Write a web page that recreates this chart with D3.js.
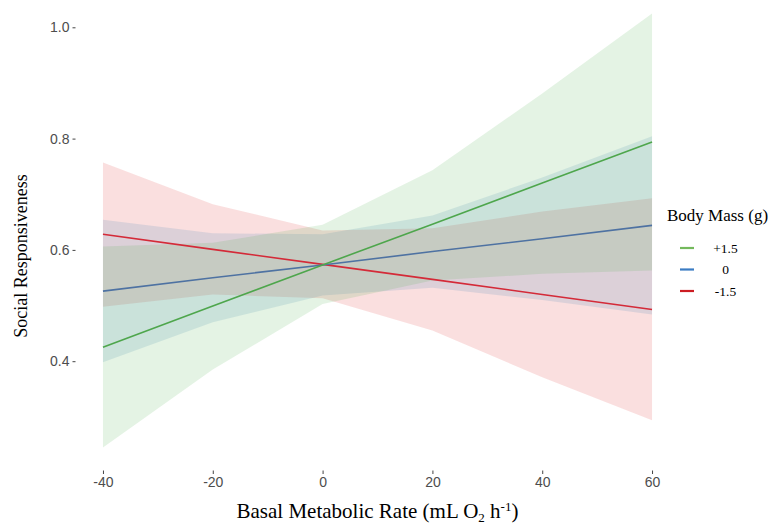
<!DOCTYPE html>
<html>
<head>
<meta charset="utf-8">
<script src="https://cdn.jsdelivr.net/npm/d3@7"></script>
<style>
  html, body { margin: 0; padding: 0; background: #ffffff; }
  svg { display: block; }
</style>
</head>
<body>
<svg id="chart" width="775" height="524"></svg>
<script>
// ---- data ----
const xVals = [-40, -20, 0, 20, 40, 60];
const xTicks = [-40, -20, 0, 20, 40, 60];
const yTicks = [0.4, 0.6, 0.8, 1.0];
const seriesNames = ["+1.5", "0", "-1.5"];

const fitPlus   = [0.425, 0.499, 0.573, 0.646, 0.720, 0.794];
const lowerPlus = [0.245, 0.385, 0.503, 0.545, 0.557, 0.563];
const upperPlus = [0.606, 0.613, 0.645, 0.743, 0.881, 1.025];

const fitZero   = [0.526, 0.550, 0.573, 0.597, 0.620, 0.644];
const lowerZero = [0.398, 0.470, 0.518, 0.532, 0.510, 0.484];
const upperZero = [0.654, 0.630, 0.628, 0.662, 0.730, 0.804];

const fitMinus   = [0.628, 0.601, 0.574, 0.547, 0.520, 0.493];
const lowerMinus = [0.498, 0.520, 0.513, 0.455, 0.371, 0.294];
const upperMinus = [0.757, 0.682, 0.635, 0.639, 0.669, 0.693];

const lineColors   = ["#4ea64c", "#4e72a2", "#d42a38"];
const fillColors   = ["#4daf4a", "#377eb8", "#e0262b"];
const legendColors = ["#74b95c", "#3b7cc3", "#cc1c22"];

const series = [
  { name: seriesNames[0], fit: fitPlus,  lo: lowerPlus,  hi: upperPlus },
  { name: seriesNames[1], fit: fitZero,  lo: lowerZero,  hi: upperZero },
  { name: seriesNames[2], fit: fitMinus, lo: lowerMinus, hi: upperMinus }
];

// ---- layout ----
const svg = d3.select("#chart");
const x = d3.scaleLinear().domain([-45, 65]).range([75.5, 679.5]);
const y = d3.scaleLinear().domain([0.4, 1.0]).range([361.2, 27.3]);

const plot = svg.append("g");

const area = d3.area()
  .x((d, i) => x(xVals[i]))
  .y0(d => y(d.lo))
  .y1(d => y(d.hi));

const drawOrder = [2, 1, 0];
drawOrder.forEach(k => {
  const s = series[k];
  const pts = xVals.map((v, i) => ({ lo: s.lo[i], hi: s.hi[i] }));
  plot.append("path")
    .attr("d", area(pts))
    .attr("fill", fillColors[k])
    .attr("fill-opacity", 0.15)
    .attr("stroke", "none");
});

const line = d3.line()
  .x((d, i) => x(xVals[i]))
  .y(d => y(d));

drawOrder.forEach(k => {
  plot.append("path")
    .attr("d", line(series[k].fit))
    .attr("fill", "none")
    .attr("stroke", lineColors[k])
    .attr("stroke-width", 1.6);
});

// ---- axes ----
const xAxis = d3.axisBottom(x).tickValues(xTicks).tickSize(3.5).tickPadding(3)
  .tickFormat(d3.format("d"));
const gx = svg.append("g").attr("transform", "translate(0,470.5)").call(xAxis);
gx.select(".domain").remove();
gx.selectAll(".tick line").attr("stroke", "#444").attr("stroke-width", 1);
gx.selectAll(".tick text")
  .attr("fill", "#4d4d4d")
  .style("font-family", "'Liberation Sans', Arial, sans-serif")
  .style("font-size", "14px")
  .text(d => d < 0 ? "-" + Math.abs(d) : String(d));

const yAxis = d3.axisLeft(y).tickValues(yTicks).tickSize(3).tickPadding(3)
  .tickFormat(d3.format(".1f"));
const gy = svg.append("g").attr("transform", "translate(75.5,0)").call(yAxis);
gy.select(".domain").remove();
gy.selectAll(".tick line").attr("stroke", "#444").attr("stroke-width", 1);
gy.selectAll(".tick text")
  .attr("fill", "#4d4d4d")
  .style("font-family", "'Liberation Sans', Arial, sans-serif")
  .style("font-size", "14px");

// ---- axis titles ----
const xTitle = svg.append("text")
  .attr("x", 377.5).attr("y", 518)
  .attr("text-anchor", "middle")
  .style("font-family", "'Liberation Serif', 'Times New Roman', serif")
  .style("font-size", "21px")
  .attr("fill", "#000");
xTitle.append("tspan").text("Basal Metabolic Rate (mL O");
xTitle.append("tspan").attr("dy", 4).style("font-size", "13px").text("2");
xTitle.append("tspan").attr("dy", -4).text(" h");
xTitle.append("tspan").attr("dy", -7).style("font-size", "13px").text("-1");
xTitle.append("tspan").attr("dy", 7).text(")");

svg.append("text")
  .attr("transform", "translate(27,256) rotate(-90)")
  .attr("text-anchor", "middle")
  .style("font-family", "'Liberation Serif', 'Times New Roman', serif")
  .style("font-size", "18px")
  .attr("fill", "#000")
  .text("Social Responsiveness");

// ---- legend ----
const legend = svg.append("g");
legend.append("text")
  .attr("x", 667).attr("y", 221)
  .style("font-family", "'Liberation Serif', 'Times New Roman', serif")
  .style("font-size", "17px")
  .attr("fill", "#000")
  .text("Body Mass (g)");

const legY = d3.scalePoint().domain(seriesNames).range([248, 291]);
seriesNames.forEach((nm, k) => {
  legend.append("line")
    .attr("x1", 680).attr("x2", 694)
    .attr("y1", legY(nm)).attr("y2", legY(nm))
    .attr("stroke", legendColors[k])
    .attr("stroke-width", 2.2);
  legend.append("text")
    .attr("x", 725.5).attr("y", legY(nm) + 4.5)
    .attr("text-anchor", "middle")
    .style("font-family", "'Liberation Serif', 'Times New Roman', serif")
    .style("font-size", "13.5px")
    .attr("fill", "#000")
    .text(nm);
});
</script>
</body>
</html>
